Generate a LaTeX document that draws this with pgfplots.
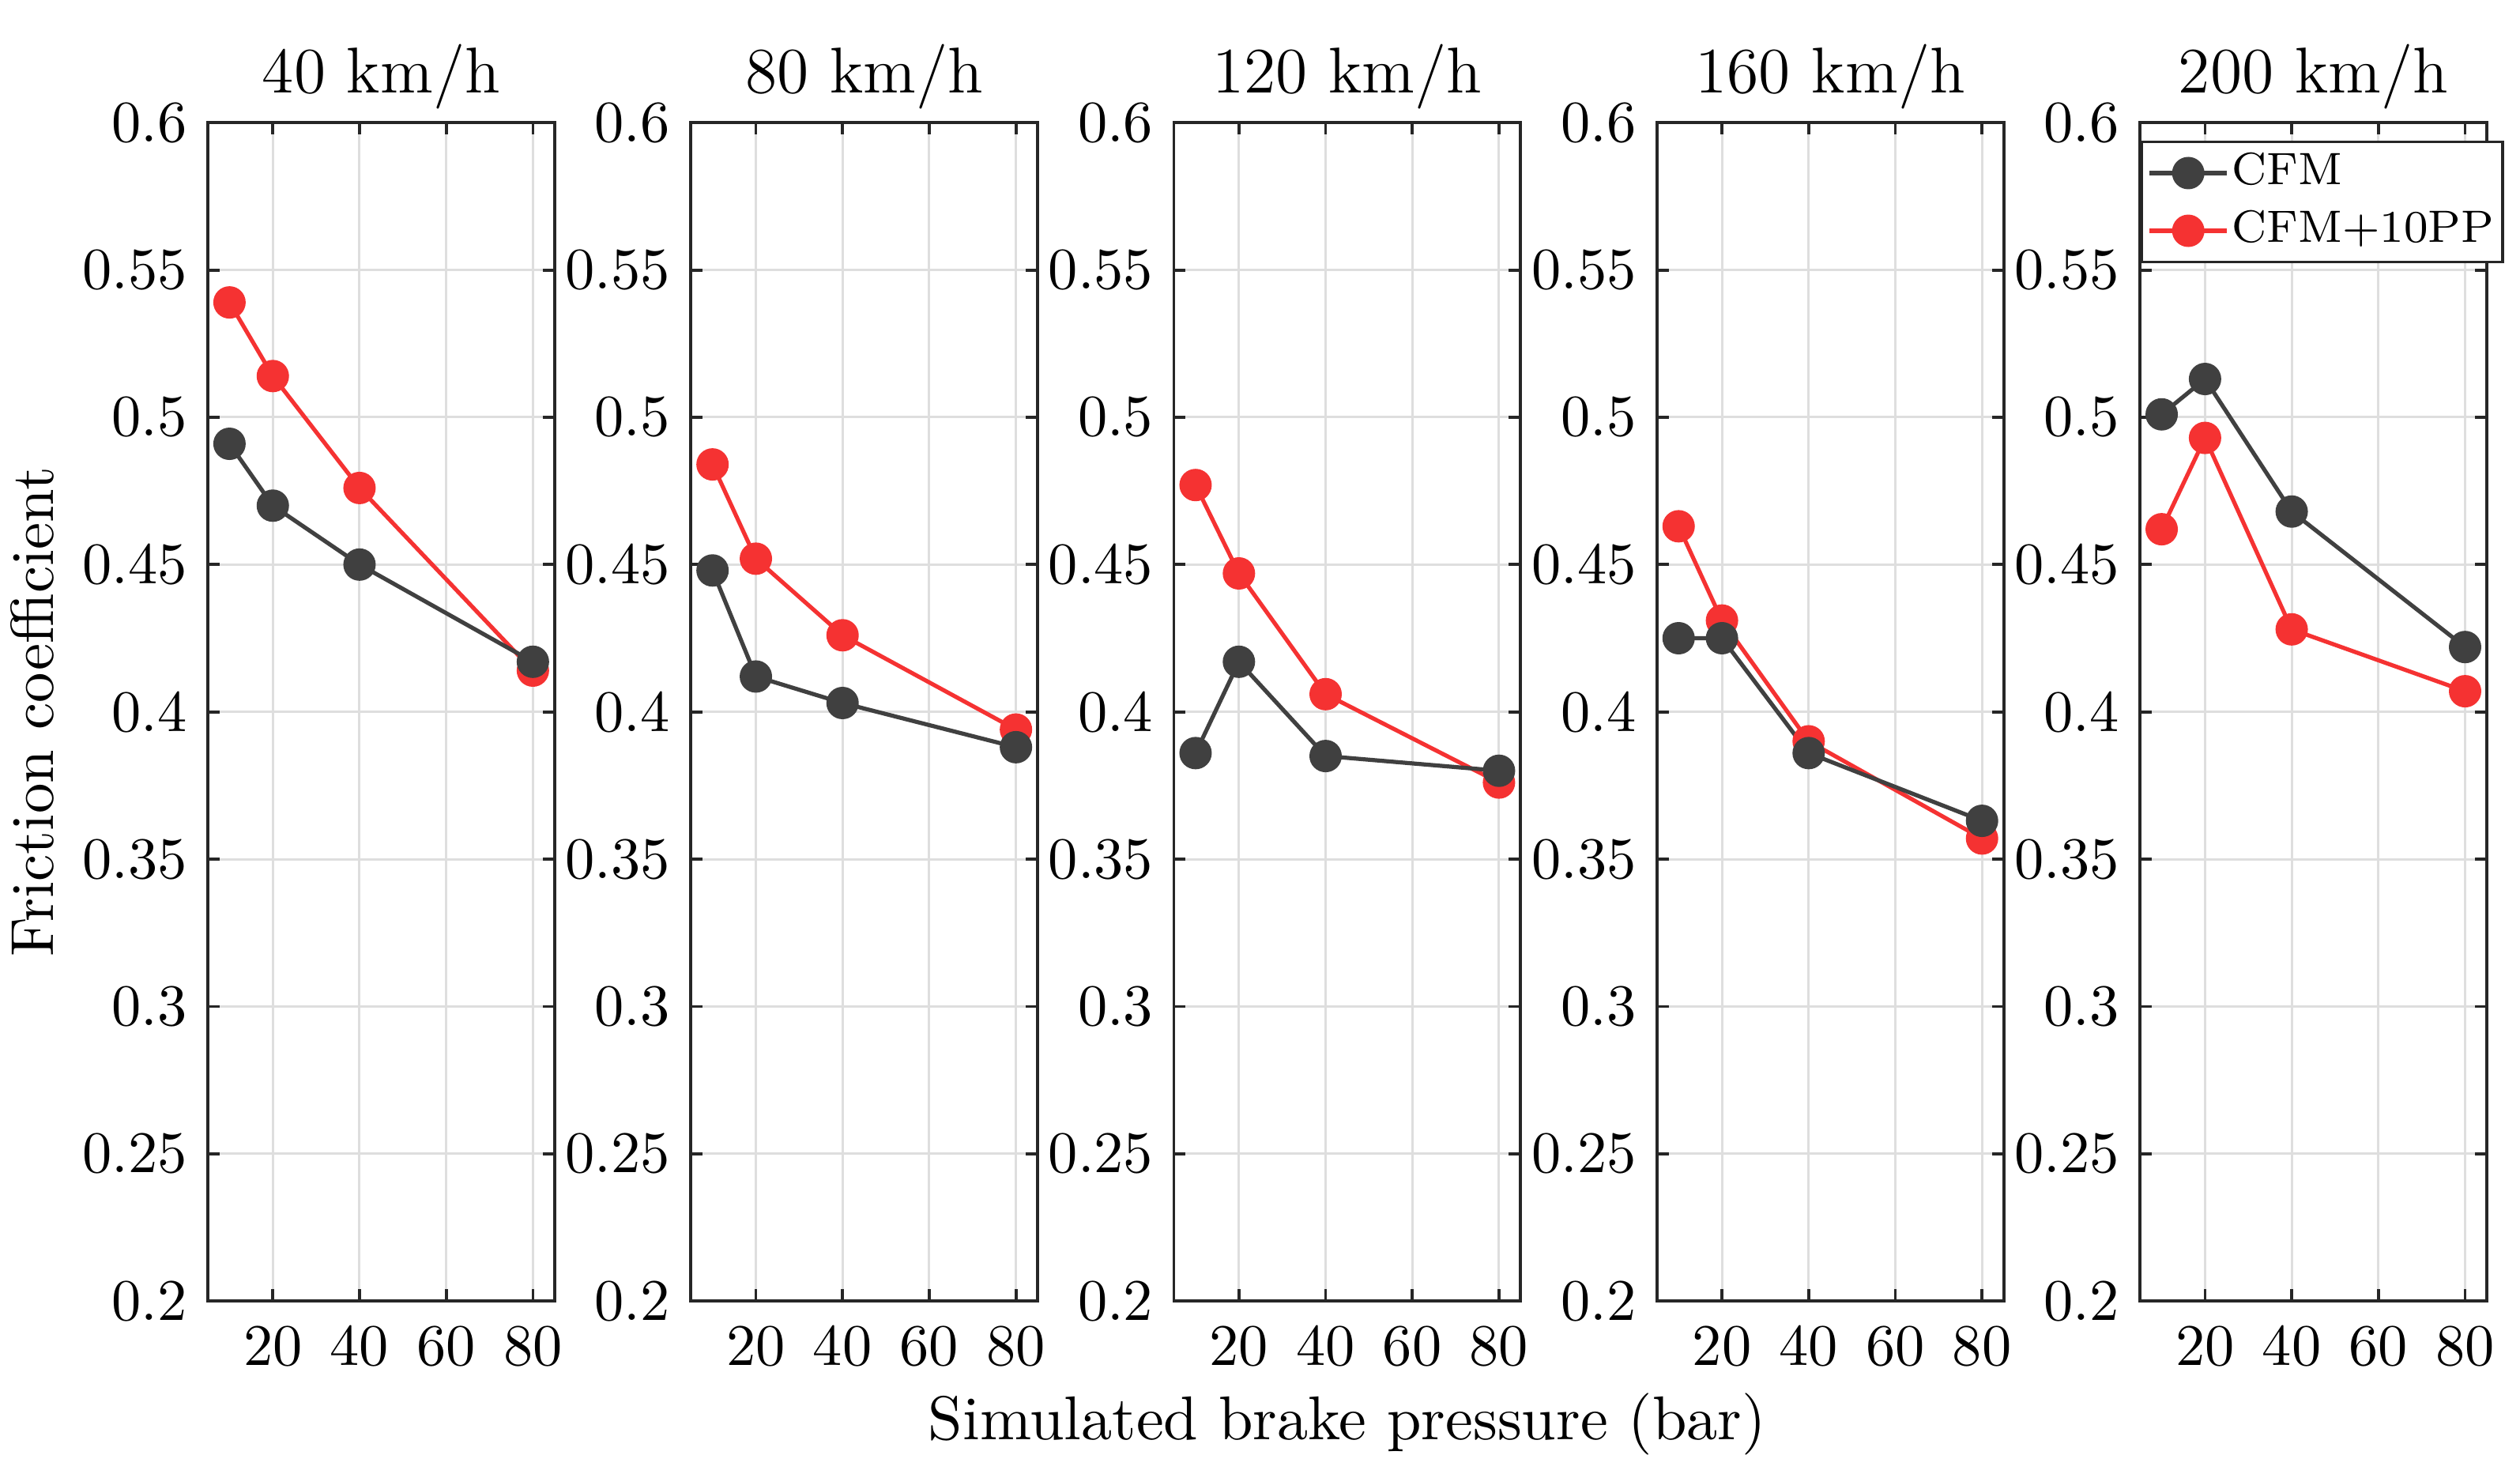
\documentclass[border=0pt]{standalone}
\usepackage{pgfplots}
\pgfplotsset{compat=1.18}

\definecolor{cfmgray}{RGB}{64,64,64}
\definecolor{ppred}{RGB}{245,50,50}

\pgfplotsset{
  cfm/.style={color=cfmgray, line width=0.7pt, mark=*, mark size=2.4pt, mark options={solid}},
  pp/.style={color=ppred, line width=0.7pt, mark=*, mark size=2.4pt, mark options={solid}},
  every axis title/.style={at={(0.5,1)}, anchor=base, yshift=5.1pt, font=\fontsize{11}{13}\selectfont},
  panel/.style={
    scale only axis, width=58.9pt, height=200.1pt,
    xmin=5, xmax=85, ymin=0.2, ymax=0.6,
    xtick={20,40,60,80},
    ytick={0.2,0.25,0.3,0.35,0.4,0.45,0.5,0.55,0.6},
    yticklabels={0.2,0.25,0.3,0.35,0.4,0.45,0.5,0.55,0.6},
    tick align=inside, major tick length=2pt,
    grid=major, major grid style={black!13, line width=0.4pt},
    axis line style={black!85, line width=0.5pt},
    tick style={black!85, line width=0.5pt},
    ticklabel style={font=\fontsize{10}{12}\selectfont},
    xticklabel style={yshift=-1pt},
    legend image code/.code={
      \draw[mark repeat=2, mark phase=2, #1] plot coordinates {(0pt,0pt) (6.6pt,0pt) (13.2pt,0pt)};
    },
  },
}

\begin{document}
\begin{tikzpicture}

% 40 km/h
\begin{axis}[panel, at={(0pt,0pt)}, anchor=south west, title={40 km/h},
  ylabel={Friction coefficient},
  ylabel style={at={(axis description cs:-0.445,0.5)}, anchor=base, font=\fontsize{10.3}{12}\selectfont}]
  \addplot[pp] coordinates {(10,0.539) (20,0.514) (40,0.476) (80,0.414)};
  \addplot[cfm] coordinates {(10,0.491) (20,0.470) (40,0.450) (80,0.417)};
\end{axis}

% 80 km/h
\begin{axis}[panel, at={(82.05pt,0pt)}, anchor=south west, title={80 km/h}]
  \addplot[pp] coordinates {(10,0.484) (20,0.452) (40,0.426) (80,0.394)};
  \addplot[cfm] coordinates {(10,0.448) (20,0.412) (40,0.403) (80,0.388)};
\end{axis}

% 120 km/h
\begin{axis}[panel, at={(164.1pt,0pt)}, anchor=south west, title={120 km/h},
  xlabel={Simulated brake pressure (bar)},
  xlabel style={at={(axis description cs:0.5,0)}, anchor=base, yshift=-23.6pt, font=\fontsize{10.5}{12}\selectfont}]
  \addplot[pp] coordinates {(10,0.477) (20,0.447) (40,0.406) (80,0.376)};
  \addplot[cfm] coordinates {(10,0.386) (20,0.417) (40,0.385) (80,0.380)};
\end{axis}

% 160 km/h
\begin{axis}[panel, at={(246.15pt,0pt)}, anchor=south west, title={160 km/h}]
  \addplot[pp] coordinates {(10,0.463) (20,0.431) (40,0.390) (80,0.357)};
  \addplot[cfm] coordinates {(10,0.425) (20,0.425) (40,0.386) (80,0.363)};
\end{axis}

% 200 km/h
\begin{axis}[panel, at={(328.2pt,0pt)}, anchor=south west, title={200 km/h},
  legend style={at={(axis description cs:0,1)}, anchor=north west, yshift=-3pt,
    font=\fontsize{7.7}{9}\selectfont, draw=black!85, line width=0.5pt,
    inner xsep=1pt, inner ysep=0.8pt, row sep=0.8pt,
    nodes={inner xsep=0.5pt, inner ysep=1pt, text height=5.5pt, text depth=1.5pt}},
  legend cell align=left]
  \addplot[pp, forget plot] coordinates {(10,0.462) (20,0.493) (40,0.428) (80,0.407)};
  \addplot[cfm, forget plot] coordinates {(10,0.501) (20,0.513) (40,0.468) (80,0.422)};
  \addlegendimage{cfm}
  \addlegendentry{CFM}
  \addlegendimage{pp}
  \addlegendentry{CFM+10PP}
\end{axis}

\pgfresetboundingbox
\useasboundingbox (-35.3pt,-29.26pt) rectangle (392.75pt,220.94pt);
\end{tikzpicture}
\end{document}
